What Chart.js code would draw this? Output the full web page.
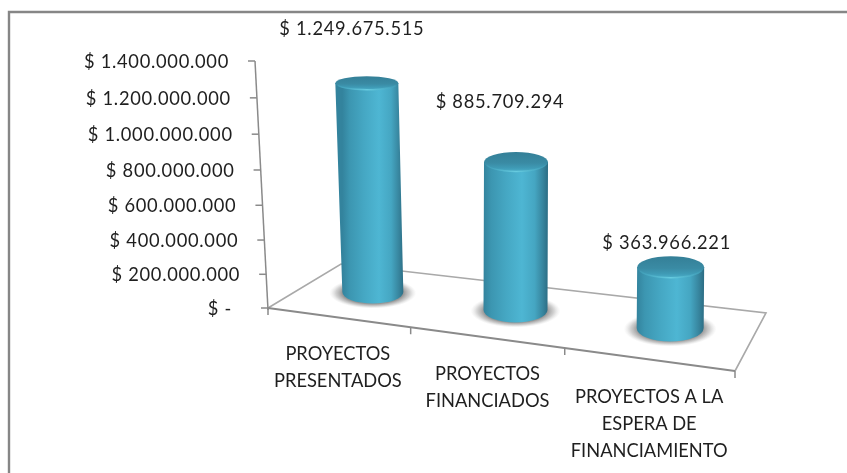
<!DOCTYPE html>
<html><head><meta charset="utf-8">
<style>html,body{margin:0;padding:0;background:#fff}canvas{display:block}</style>
<script src="https://cdn.jsdelivr.net/npm/chart.js@4"></script>
</head><body>
<div style="width:847px;height:473px"><canvas id="c" width="847" height="473"></canvas></div>
<script>
const categories = [["PROYECTOS","PRESENTADOS"],["PROYECTOS","FINANCIADOS"],["PROYECTOS A LA","ESPERA DE","FINANCIAMIENTO"]];
const values = [1249675515, 885709294, 363966221];
const valueLabels = ["$ 1.249.675.515","$ 885.709.294","$ 363.966.221"];
const yTickLabels = ["$ -","$ 200.000.000","$ 400.000.000","$ 600.000.000","$ 800.000.000","$ 1.000.000.000","$ 1.200.000.000","$ 1.400.000.000"];
const yMax = 1400000000, yStep = 200000000;

// 3D projection constants (layout only)
const FONT = '18.3px Lato, Carlito, sans-serif';
const NUM_SPACING = '0.72px';
const TEXT = '#1f1f1f';
const FLOOR = {fl:[268,308], fr:[735,371], br:[766,313], bl:[341,264]};
const AXIS_LEAN = 13;
const AXIS_BOW = 3.2;
const FRONT_TICKS = [0,0.3055,0.6354,1];
const CYL = [
 {dx:27, baseY:292, hb:11.5, wb:30.5, lean:-6, ht:7,  wt:31.5, lx:-15, ly:-54},
 {dx:14, baseY:310, hb:12.5, wb:32,   lean:0.5,ht:10, wt:32,   lx:-16, ly:-60},
 {dx:13, baseY:328, hb:13.5, wb:33.5, lean:0.5,ht:11, wt:33.5, lx:-4,  ly:-24}
];
const HEIGHT_K = 0.947;
const X_LABELS = [{dx:-8,y:354},{dx:-14,y:374},{dx:-8,y:397}];
const LINE_H = 27;

function drawCyl(ctx, cx, baseY, topCx, topY, c){
  // shadow
  ctx.save();
  ctx.translate(cx, baseY+1);
  ctx.scale(1, (c.hb+4)/(c.wb+13));
  const r = c.wb+13;
  const sg = ctx.createRadialGradient(0,0,r*0.7,0,0,r);
  sg.addColorStop(0,'rgba(105,105,105,0.7)');
  sg.addColorStop(0.5,'rgba(145,145,145,0.42)');
  sg.addColorStop(1,'rgba(200,200,200,0)');
  ctx.fillStyle=sg;
  ctx.beginPath();ctx.arc(0,0,r,0,Math.PI*2);ctx.fill();
  ctx.restore();

  // body
  const g = ctx.createLinearGradient(cx-c.wb,0,cx+c.wb,0);
  g.addColorStop(0,'#33839d');
  g.addColorStop(0.12,'#3c96b1');
  g.addColorStop(0.35,'#45a7c3');
  g.addColorStop(0.6,'#4eb6d3');
  g.addColorStop(0.8,'#45a6c2');
  g.addColorStop(0.93,'#37849d');
  g.addColorStop(1,'#2d6f86');
  ctx.fillStyle=g;
  ctx.beginPath();
  ctx.moveTo(topCx-c.wt, topY);
  ctx.lineTo(cx-c.wb, baseY);
  ctx.ellipse(cx, baseY, c.wb, c.hb, 0, Math.PI, 0, true);
  ctx.lineTo(topCx+c.wt, topY);
  ctx.closePath();
  ctx.fill();

  // top
  const tg = ctx.createLinearGradient(0,topY-c.ht,0,topY+c.ht);
  tg.addColorStop(0,'#347f97');
  tg.addColorStop(0.55,'#3a8ba4');
  tg.addColorStop(0.8,'#3f9bb6');
  tg.addColorStop(1,'#4cb0ca');
  ctx.fillStyle=tg;
  ctx.beginPath();
  ctx.ellipse(topCx, topY, c.wt, c.ht, 0, 0, Math.PI*2);
  ctx.fill();
  // rim highlight
  ctx.beginPath();
  ctx.ellipse(topCx, topY, c.wt-0.5, c.ht-0.5, 0, Math.PI*0.12, Math.PI*0.88);
  const rg = ctx.createLinearGradient(topCx-c.wt,0,topCx+c.wt,0);
  rg.addColorStop(0,'rgba(70,170,195,0.2)');
  rg.addColorStop(0.5,'rgba(105,205,225,0.95)');
  rg.addColorStop(1,'rgba(70,170,195,0.2)');
  ctx.strokeStyle=rg; ctx.lineWidth=1.5; ctx.stroke();
}

const scene = {
  id:'scene',
  beforeDraw(chart){
    const {ctx, scales:{x,y}} = chart;
    ctx.save();
    // outer frame (only top and left edges are in view)
    ctx.strokeStyle='#868686'; ctx.lineWidth=2.4;
    ctx.beginPath();ctx.moveTo(9,473);ctx.lineTo(9,12);ctx.lineTo(847,12);ctx.stroke();

    // floor
    const F=FLOOR, zeroY=y.getPixelForValue(0);
    ctx.lineWidth=1.6;
    ctx.strokeStyle='#a9a9a9';
    ctx.beginPath();ctx.moveTo(F.fl[0],zeroY);ctx.lineTo(...F.bl);ctx.lineTo(...F.br);ctx.lineTo(...F.fr);ctx.stroke();
    ctx.strokeStyle='#8a8a8a';
    ctx.lineWidth=1.8;
    ctx.beginPath();ctx.moveTo(F.fl[0],zeroY);ctx.lineTo(...F.fr);ctx.stroke();
    // category ticks on the front edge
    ctx.lineWidth=1.5;
    FRONT_TICKS.forEach(t=>{
      const px=F.fl[0]+(F.fr[0]-F.fl[0])*t, py=F.fl[1]+(F.fr[1]-F.fl[1])*t;
      ctx.beginPath();ctx.moveTo(px,py);ctx.lineTo(px,py+7);ctx.stroke();
    });
    // leaning value axis, with the slight perspective bow of its tick spacing
    const axX=v=>x.left-AXIS_LEAN*(v/yMax);
    const bow=v=>{const f=v/yMax;return AXIS_BOW*4*f*(1-f);};
    ctx.strokeStyle='#8a8a8a';
    ctx.beginPath();ctx.moveTo(axX(yMax),y.getPixelForValue(yMax));ctx.lineTo(axX(0),zeroY+2);ctx.stroke();
    ctx.font=FONT; ctx.textAlign='right'; ctx.textBaseline='middle';
    y.ticks.forEach((t,i)=>{
      const py=y.getPixelForTick(i)+bow(t.value), px=axX(t.value);
      ctx.strokeStyle='#8a8a8a';
      ctx.beginPath();ctx.moveTo(px-7,py);ctx.lineTo(px,py);ctx.stroke();
      ctx.fillStyle=TEXT;
      ctx.letterSpacing=NUM_SPACING;
      ctx.fillText(t.label, px-26-(t.value===0?10:0), py+1);
      ctx.letterSpacing='0px';
    });
    // category labels
    ctx.textAlign='center';
    x.ticks.forEach((t,i)=>{
      const px=x.getPixelForTick(i)+X_LABELS[i].dx;
      [].concat(t.label).forEach((ln,j)=>ctx.fillText(ln,px,X_LABELS[i].y+j*LINE_H));
    });
    ctx.restore();
  },
  beforeDatasetDraw(chart,args){
    const {ctx, scales:{y}} = chart;
    const zeroY=y.getPixelForValue(0);
    chart.getDatasetMeta(args.index).data.forEach((bar,i)=>{
      const c=CYL[i], cx=bar.x+c.dx, topCx=cx+c.lean;
      const topY=c.baseY-HEIGHT_K*(zeroY-bar.y);
      drawCyl(ctx,cx,c.baseY,topCx,topY,c);
      ctx.save();
      ctx.font=FONT; ctx.fillStyle=TEXT; ctx.textAlign='center'; ctx.textBaseline='middle';
      ctx.letterSpacing=NUM_SPACING;
      ctx.fillText(valueLabels[i],topCx+c.lx,topY+c.ly);
      ctx.restore();
    });
    return false;
  }
};

new Chart(document.getElementById('c'),{
  type:'bar',
  data:{labels:categories,datasets:[{data:values,backgroundColor:'#4bb5d2',barPercentage:0.8}]},
  options:{
    responsive:false,animation:false,
    layout:{padding:{left:268,right:112,top:61,bottom:165}},
    plugins:{legend:{display:false},tooltip:{enabled:false}},
    scales:{
      x:{display:true,grid:{display:false},border:{display:false},ticks:{display:false},afterFit(s){s.height=0;s.paddingLeft=0;s.paddingRight=0;}},
      y:{display:true,min:0,max:yMax,grid:{display:false},border:{display:false},afterFit(s){s.width=0;s.paddingTop=0;s.paddingBottom=0;},
         ticks:{display:false,stepSize:yStep,callback:(v)=>yTickLabels[Math.round(v/yStep)]}}
    }
  },
  plugins:[scene]
});
</script>
</body></html>
